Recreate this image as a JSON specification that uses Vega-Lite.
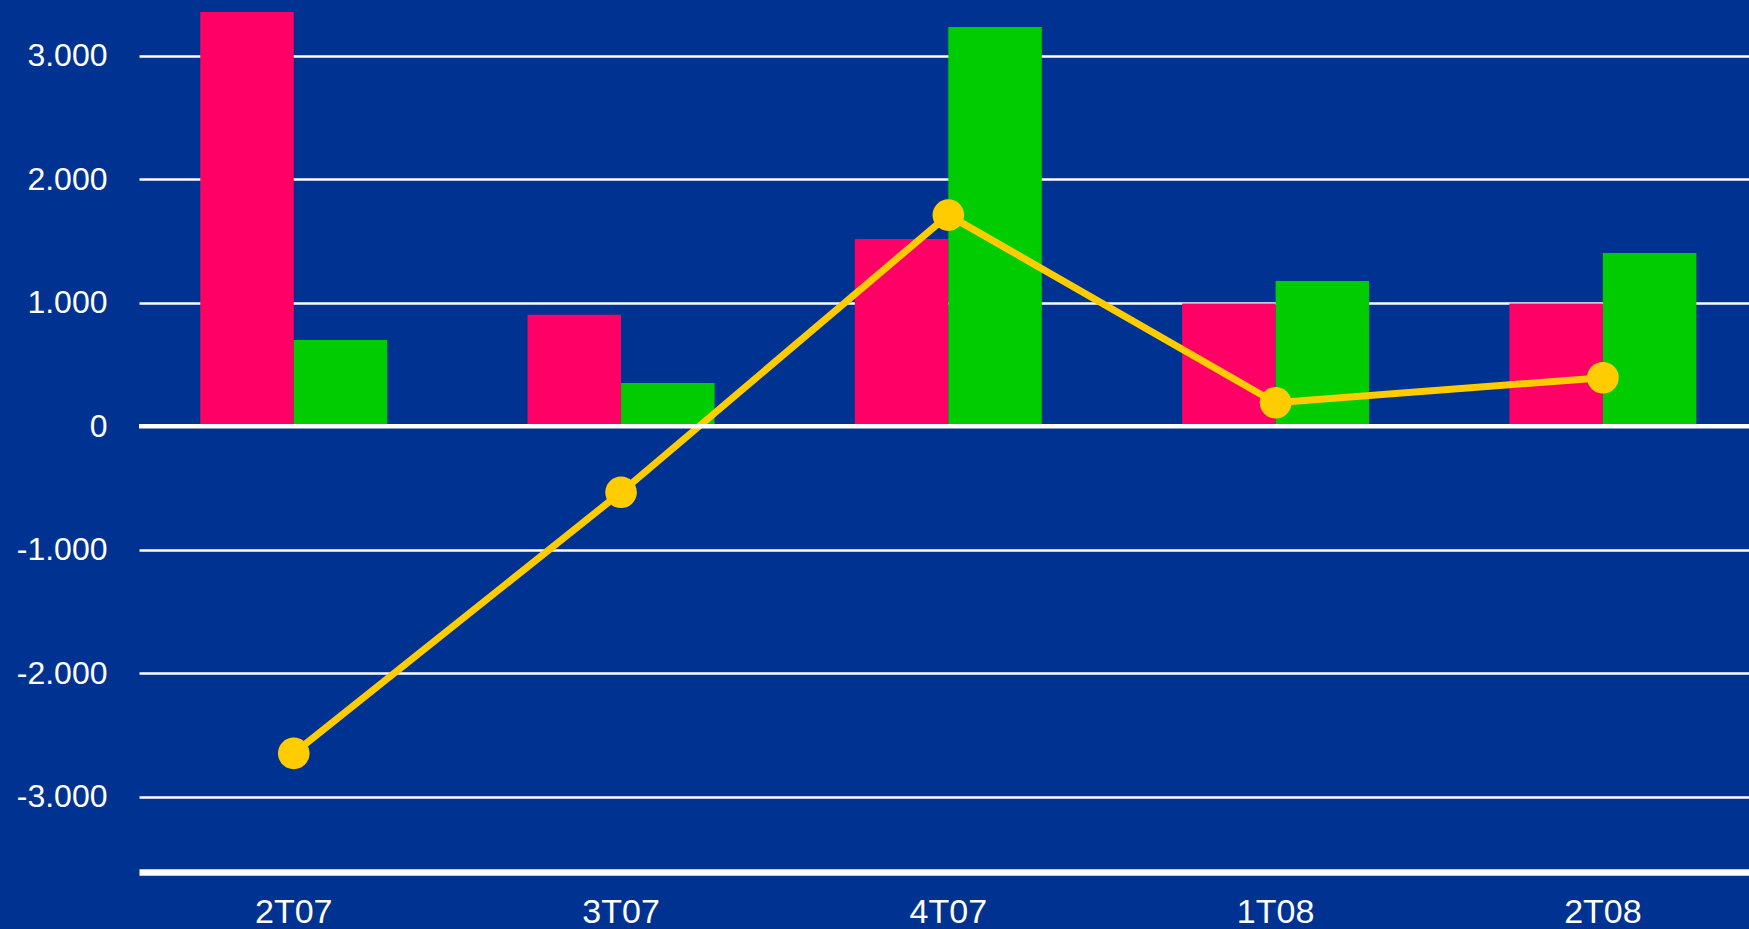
{
  "$schema": "https://vega.github.io/schema/vega-lite/v6.json",
  "width": 1610,
  "height": 872,
  "autosize": {"type": "none"},
  "padding": {"left": 139, "top": 0, "right": 0, "bottom": 57},
  "background": "#003391",
  "config": {"view": {"stroke": null}, "font": "Liberation Sans"},
  "datasets": {
    "barras": [
      {"trimestre": "2T07", "serie": "Serie 1", "valor": 3354},
      {"trimestre": "2T07", "serie": "Serie 2", "valor": 698},
      {"trimestre": "3T07", "serie": "Serie 1", "valor": 903},
      {"trimestre": "3T07", "serie": "Serie 2", "valor": 350},
      {"trimestre": "4T07", "serie": "Serie 1", "valor": 1516},
      {"trimestre": "4T07", "serie": "Serie 2", "valor": 3233},
      {"trimestre": "1T08", "serie": "Serie 1", "valor": 995},
      {"trimestre": "1T08", "serie": "Serie 2", "valor": 1176},
      {"trimestre": "2T08", "serie": "Serie 1", "valor": 995},
      {"trimestre": "2T08", "serie": "Serie 2", "valor": 1403}
    ],
    "diferencia": [
      {"trimestre": "2T07", "valor": -2649},
      {"trimestre": "3T07", "valor": -535},
      {"trimestre": "4T07", "valor": 1710},
      {"trimestre": "1T08", "valor": 190},
      {"trimestre": "2T08", "valor": 393}
    ],
    "cero": [{"valor": 0}]
  },
  "layer": [
    {
      "data": {"name": "barras"},
      "mark": {"type": "bar"},
      "encoding": {
        "x": {
          "field": "trimestre",
          "type": "nominal",
          "title": null,
          "sort": ["2T07", "3T07", "4T07", "1T08", "2T08"],
          "scale": {"paddingInner": 0.4287, "paddingOuter": 0.174, "align": 0.538},
          "axis": {
            "ticks": false,
            "grid": false,
            "domain": true,
            "domainColor": "white",
            "domainWidth": 6.5,
            "labelAngle": 0,
            "labelFont": "Liberation Sans",
            "labelFontSize": 34,
            "labelColor": "white",
            "labelPadding": 23
          }
        },
        "xOffset": {
          "field": "serie",
          "type": "nominal",
          "sort": ["Serie 1", "Serie 2"],
          "scale": {"paddingInner": 0, "paddingOuter": 0}
        },
        "y": {
          "field": "valor",
          "type": "quantitative",
          "title": null,
          "scale": {"domain": [-3610, 3452], "nice": false, "zero": false},
          "axis": {
            "values": [-3000, -2000, -1000, 0, 1000, 2000, 3000],
            "ticks": false,
            "domain": false,
            "labelPadding": 32,
            "labelFont": "Liberation Sans",
            "labelFontSize": 32,
            "labelColor": "white",
            "gridColor": "white",
            "gridWidth": 2.5,
            "gridOpacity": 1,
            "labelExpr": "(datum.value < 0 ? '-' : '') + replace(format(abs(datum.value), ','), ',', '.')"
          }
        },
        "color": {
          "field": "serie",
          "type": "nominal",
          "scale": {"domain": ["Serie 1", "Serie 2"], "range": ["#FF0066", "#00CC00"]},
          "legend": null
        }
      }
    },
    {
      "data": {"name": "diferencia"},
      "mark": {"type": "line", "color": "#FFCC00", "strokeWidth": 7},
      "encoding": {
        "x": {"field": "trimestre", "type": "nominal", "title": null, "sort": ["2T07", "3T07", "4T07", "1T08", "2T08"]},
        "y": {"field": "valor", "type": "quantitative", "title": null}
      }
    },
    {
      "data": {"name": "diferencia"},
      "mark": {"type": "circle", "color": "#FFCC00", "size": 1000, "opacity": 1},
      "encoding": {
        "x": {"field": "trimestre", "type": "nominal", "title": null, "sort": ["2T07", "3T07", "4T07", "1T08", "2T08"]},
        "y": {"field": "valor", "type": "quantitative", "title": null}
      }
    },
    {
      "data": {"name": "cero"},
      "mark": {"type": "rule", "color": "white", "strokeWidth": 4.5},
      "encoding": {
        "y": {"field": "valor", "type": "quantitative", "title": null}
      }
    }
  ]
}
